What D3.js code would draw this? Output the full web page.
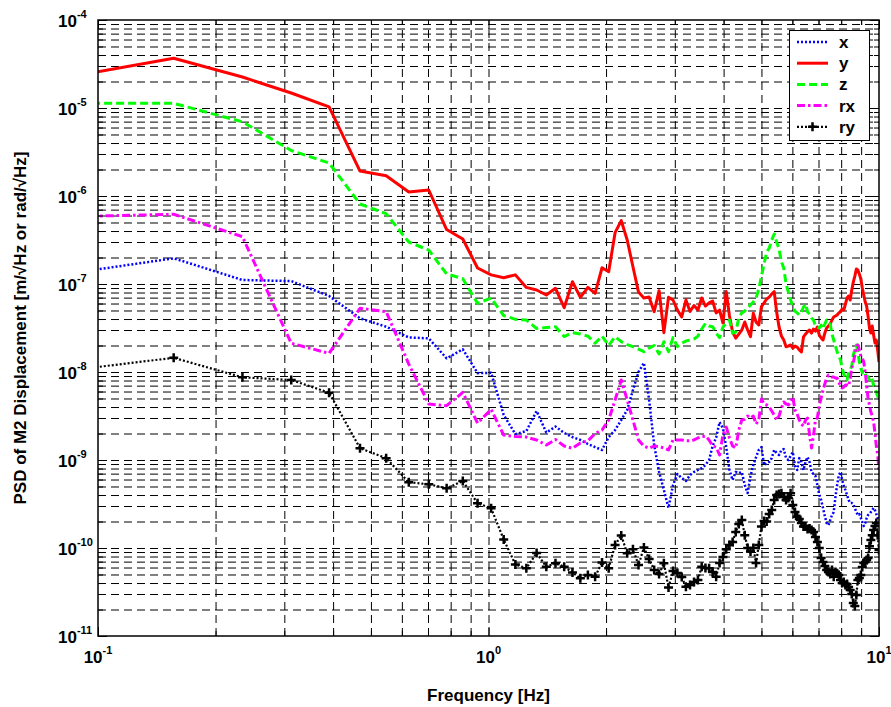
<!DOCTYPE html>
<html>
<head>
<meta charset="utf-8">
<script src="https://cdn.jsdelivr.net/npm/d3@7/dist/d3.min.js"></script>
<style>
  body { margin: 0; background: #fff; }
  svg { display: block; }
  text { font-family: "Liberation Sans", Arial, Helvetica, sans-serif; font-weight: bold; fill: #000; }
</style>
</head>
<body>
<svg id="chart" width="891" height="707"></svg>
<script>
// Frequency bins of the spectra [Hz] (bin width 0.078125 Hz)
const freqHz = [
  0.078125, 0.15625, 0.234375, 0.3125, 0.390625, 0.46875, 0.546875, 0.625,
  0.703125, 0.78125, 0.859375, 0.9375, 1.015625, 1.09375, 1.171875, 1.25,
  1.328125, 1.40625, 1.484375, 1.5625, 1.640625, 1.71875, 1.796875, 1.875,
  1.953125, 2.03125, 2.109375, 2.1875, 2.265625, 2.34375, 2.421875, 2.5,
  2.578125, 2.65625, 2.734375, 2.8125, 2.890625, 2.96875, 3.046875, 3.125,
  3.203125, 3.28125, 3.359375, 3.4375, 3.515625, 3.59375, 3.671875, 3.75,
  3.828125, 3.90625, 3.984375, 4.0625, 4.140625, 4.21875, 4.296875, 4.375,
  4.453125, 4.53125, 4.609375, 4.6875, 4.765625, 4.84375, 4.921875, 5.0,
  5.078125, 5.15625, 5.234375, 5.3125, 5.390625, 5.46875, 5.546875, 5.625,
  5.703125, 5.78125, 5.859375, 5.9375, 6.015625, 6.09375, 6.171875, 6.25,
  6.328125, 6.40625, 6.484375, 6.5625, 6.640625, 6.71875, 6.796875, 6.875,
  6.953125, 7.03125, 7.109375, 7.1875, 7.265625, 7.34375, 7.421875, 7.5,
  7.578125, 7.65625, 7.734375, 7.8125, 7.890625, 7.96875, 8.046875, 8.125,
  8.203125, 8.28125, 8.359375, 8.4375, 8.515625, 8.59375, 8.671875, 8.75,
  8.828125, 8.90625, 8.984375, 9.0625, 9.140625, 9.21875, 9.296875, 9.375,
  9.453125, 9.53125, 9.609375, 9.6875, 9.765625, 9.84375, 9.921875, 10.0
];

// PSD of M2 displacement, translational DOFs [m/√Hz]
const psdX = [
  1.25e-7, 1.96e-7, 1.11e-7, 1.08e-7, 7.3e-8, 4.08e-8, 3.27e-8, 2.47e-8, 2.41e-8, 1.43e-8,
  1.81e-8, 9.7e-9, 9.8e-9, 3.25e-9, 1.97e-9, 2.13e-9, 3.6e-9, 2.05e-9, 2.4e-9, 2.03e-9,
  1.82e-9, 1.69e-9, 1.52e-9, 1.4e-9, 1.3e-9, 1.82e-9, 2.19e-9, 2.85e-9, 3.7e-9, 6.24e-9,
  1.0e-8, 1.27e-8, 4.81e-9, 1.48e-9, 7.3e-10, 4.56e-10, 2.85e-10, 5.2e-10, 6.93e-10, 6.24e-10,
  5.77e-10, 6.75e-10, 7.3e-10, 7.7e-10, 8.1e-10, 8.77e-10, 1.0e-9, 1.45e-9, 1.8e-9, 2.7e-9,
  2.3e-9, 1.4e-9, 7.7e-10, 5.92e-10, 7.3e-10, 7.1e-10, 7.3e-10, 5.2e-10, 4.22e-10, 6.58e-10,
  8.77e-10, 1.08e-9, 1.3e-9, 1.4e-9, 8.77e-10, 9.2e-10, 9.5e-10, 1.05e-9, 1.3e-9, 1.2e-9,
  1.14e-9, 1.3e-9, 1.33e-9, 1.05e-9, 1.0e-9, 1.11e-9, 1.23e-9, 8.54e-10, 7.7e-10, 1.05e-9,
  9.5e-10, 7.7e-10, 9.5e-10, 1.08e-9, 9.5e-10, 7.3e-10, 6.93e-10, 6.58e-10, 5.2e-10, 4.0e-10,
  3.51e-10, 2.85e-10, 2.31e-10, 1.92e-10, 1.82e-10, 2.08e-10, 2.37e-10, 2.56e-10, 3.8e-10, 5.2e-10,
  6.75e-10, 7.3e-10, 5.92e-10, 5.06e-10, 4.56e-10, 4.0e-10, 3.51e-10, 3.25e-10, 3.25e-10, 3.16e-10,
  2.85e-10, 2.56e-10, 2.37e-10, 2.43e-10, 2.19e-10, 1.97e-10, 1.78e-10, 1.92e-10, 2.19e-10, 2.37e-10,
  2.43e-10, 2.56e-10, 2.7e-10, 2.85e-10, 2.7e-10, 2.43e-10, 2.19e-10, 2.08e-10
];

const psdY = [
  2.13e-5, 3.67e-5, 2.25e-5, 1.48e-5, 1.03e-5, 1.92e-6, 1.70e-6, 1.11e-6, 1.17e-6, 4.16e-7,
  3.25e-7, 1.52e-7, 1.27e-7, 1.18e-7, 1.27e-7, 9.15e-8, 8.54e-8, 7.5e-8, 8.94e-8, 5.38e-8,
  1.06e-7, 7.06e-8, 9.15e-8, 7.84e-8, 1.53e-7, 1.38e-7, 3.83e-7, 5.25e-7, 3.16e-7, 1.57e-7,
  8.1e-8, 6.93e-8, 7.1e-8, 4.85e-8, 8.4e-8, 2.8e-8, 7.06e-8, 6.58e-8, 5.06e-8, 4.22e-8,
  6.58e-8, 4.87e-8, 5.7e-8, 5.06e-8, 6.93e-8, 5.62e-8, 6.1e-8, 6.4e-8, 4.7e-8, 5.06e-8,
  3.6e-8, 8.2e-8, 4.33e-8, 2.85e-8, 2.43e-8, 2.7e-8, 3.0e-8, 3.7e-8, 3.0e-8, 2.52e-8,
  4.65e-8, 3.7e-8, 3.42e-8, 5.53e-8, 6.1e-8, 6.75e-8, 7.1e-8, 7.7e-8, 8.2e-8, 4.81e-8,
  3.25e-8, 2.56e-8, 2.31e-8, 1.94e-8, 1.97e-8, 2.03e-8, 1.87e-8, 1.97e-8, 1.92e-8, 1.78e-8,
  1.69e-8, 2.5e-8, 2.7e-8, 2.87e-8, 3.0e-8, 2.77e-8, 3.08e-8, 2.92e-8, 3.25e-8, 2.63e-8,
  2.43e-8, 2.31e-8, 2.77e-8, 3.16e-8, 3.33e-8, 3.51e-8, 3.9e-8, 4.22e-8, 4.33e-8, 4.45e-8,
  4.7e-8, 4.81e-8, 5.2e-8, 5.06e-8, 5.92e-8, 6.93e-8, 7.3e-8, 6.58e-8, 8.54e-8, 1.05e-7,
  1.23e-7, 1.48e-7, 1.44e-7, 1.30e-7, 1.14e-7, 9.0e-8, 7.5e-8, 6.24e-8, 5.62e-8, 4.33e-8,
  3.16e-8, 2.77e-8, 3.33e-8, 2.63e-8, 2.13e-8, 2.31e-8, 1.78e-8, 1.30e-8
];

const psdZ = [
  1.13e-5, 1.13e-5, 6.96e-6, 3.29e-6, 2.37e-6, 8.11e-7, 6.3e-7, 3.0e-7, 2.43e-7, 1.3e-7,
  1.15e-7, 6.03e-8, 6.93e-8, 4.38e-8, 3.97e-8, 3.9e-8, 3.12e-8, 3.2e-8, 3.27e-8, 2.53e-8,
  2.8e-8, 2.7e-8, 2.56e-8, 2.12e-8, 2.56e-8, 2.0e-8, 2.52e-8, 2.21e-8, 2.05e-8, 1.94e-8,
  1.82e-8, 1.70e-8, 1.87e-8, 2.0e-8, 1.6e-8, 2.21e-8, 1.7e-8, 2.46e-8, 1.94e-8, 2.12e-8,
  2.25e-8, 2.31e-8, 2.37e-8, 2.56e-8, 3.08e-8, 3.56e-8, 3.33e-8, 3.27e-8, 2.77e-8, 2.46e-8,
  3.25e-8, 3.57e-8, 3.9e-8, 2.77e-8, 2.85e-8, 4.11e-8, 4.7e-8, 4.93e-8, 5.34e-8, 5.77e-8,
  6.24e-8, 6.93e-8, 8.77e-8, 1.23e-7, 1.69e-7, 2.31e-7, 2.56e-7, 3.16e-7, 3.7e-7, 3.0e-7,
  2.5e-7, 1.78e-7, 1.52e-7, 1.0e-7, 8.11e-8, 6.58e-8, 5.62e-8, 4.93e-8, 4.7e-8, 4.45e-8,
  4.81e-8, 5.48e-8, 5.92e-8, 4.81e-8, 4.56e-8, 4.11e-8, 3.9e-8, 3.33e-8, 3.25e-8, 3.16e-8,
  3.42e-8, 3.08e-8, 3.51e-8, 3.9e-8, 3.8e-8, 3.51e-8, 2.7e-8, 2.31e-8, 1.97e-8, 1.69e-8,
  1.52e-8, 1.37e-8, 1.11e-8, 9.48e-9, 8.54e-9, 8.11e-9, 1.0e-8, 1.05e-8, 1.17e-8, 1.56e-8,
  1.78e-8, 2.03e-8, 1.69e-8, 1.30e-8, 1.11e-8, 9.8e-9, 1.05e-8, 9.48e-9, 9.0e-9, 8.8e-9,
  8.3e-9, 8.8e-9, 8.11e-9, 7.1e-9, 6.58e-9, 5.92e-9, 5.34e-9, 4.81e-9
];

// Rotational DOFs [rad/√Hz]
const psdRx = [
  5.77e-7, 6.2e-7, 3.45e-7, 2.12e-8, 1.63e-8, 5.3e-8, 4.85e-8, 1.23e-8, 4.33e-9, 4.14e-9,
  5.87e-9, 2.63e-9, 3.75e-9, 1.92e-9, 1.85e-9, 1.82e-9, 1.69e-9, 1.48e-9, 1.71e-9, 1.44e-9,
  1.36e-9, 1.56e-9, 1.65e-9, 2.0e-9, 2.19e-9, 2.85e-9, 4.81e-9, 8.11e-9, 4.81e-9, 2.85e-9,
  1.69e-9, 1.44e-9, 1.36e-9, 1.44e-9, 1.42e-9, 1.37e-9, 1.3e-9, 1.69e-9, 1.69e-9, 1.69e-9,
  1.65e-9, 1.65e-9, 1.69e-9, 1.78e-9, 1.85e-9, 1.87e-9, 1.69e-9, 1.44e-9, 1.4e-9, 1.14e-9,
  1.92e-9, 2.37e-9, 1.78e-9, 1.44e-9, 1.37e-9, 2.19e-9, 2.85e-9, 2.9e-9, 3.16e-9, 3.0e-9,
  3.16e-9, 2.56e-9, 2.85e-9, 4.93e-9, 4.33e-9, 4.22e-9, 4.0e-9, 3.6e-9, 3.25e-9, 2.85e-9,
  3.16e-9, 3.9e-9, 4.56e-9, 4.33e-9, 4.22e-9, 4.56e-9, 5.2e-9, 3.7e-9, 3.33e-9, 2.85e-9,
  2.56e-9, 2.43e-9, 2.85e-9, 3.0e-9, 1.92e-9, 1.37e-9, 1.92e-9, 2.85e-9, 3.0e-9, 4.22e-9,
  5.06e-9, 6.24e-9, 7.3e-9, 8.54e-9, 9.24e-9, 9.0e-9, 8.77e-9, 8.77e-9, 8.54e-9, 8.54e-9,
  7.7e-9, 6.93e-9, 6.58e-9, 6.75e-9, 7.1e-9, 7.1e-9, 6.93e-9, 8.54e-9, 1.11e-8, 1.27e-8,
  1.56e-8, 1.92e-8, 2.03e-8, 1.78e-8, 1.52e-8, 1.44e-8, 1.30e-8, 1.0e-8, 7.1e-9, 5.06e-9,
  4.22e-9, 3.51e-9, 3.16e-9, 2.7e-9, 2.03e-9, 1.44e-9, 1.14e-9, 7.7e-10
];

const psdRy = [
  1.0e-8, 1.45e-8, 8.7e-9, 8.11e-9, 5.82e-9, 1.36e-9, 1.05e-9, 5.58e-10, 5.3e-10, 4.77e-10,
  5.77e-10, 3.22e-10, 2.83e-10, 1.25e-10, 6.5e-11, 5.88e-11, 8.77e-11, 6.13e-11, 6.7e-11, 6.13e-11,
  5.27e-11, 4.52e-11, 4.93e-11, 4.72e-11, 6.85e-11, 5.88e-11, 1.08e-10, 1.39e-10, 8.7e-11, 9.7e-11,
  6.4e-11, 1.01e-10, 7.5e-11, 5.62e-11, 5.06e-11, 6.7e-11, 3.56e-11, 5.48e-11, 5.2e-11, 4.68e-11,
  3.63e-11, 3.8e-11, 4.11e-11, 4.33e-11, 6.13e-11, 5.92e-11, 5.88e-11, 5.34e-11, 4.72e-11, 6.75e-11,
  7.9e-11, 9.7e-11, 1.08e-10, 1.17e-10, 1.52e-10, 1.87e-10, 2.08e-10, 1.4e-10, 1.0e-10, 9.1e-11,
  1.0e-10, 6.75e-11, 1.08e-10, 1.75e-10, 2.03e-10, 2.0e-10, 2.43e-10, 2.7e-10, 3.51e-10, 4.0e-10,
  4.1e-10, 4.18e-10, 3.8e-10, 3.51e-10, 3.7e-10, 4.18e-10, 3.08e-10, 2.56e-10, 2.27e-10, 2.13e-10,
  1.92e-10, 1.75e-10, 1.75e-10, 1.64e-10, 1.67e-10, 1.6e-10, 1.52e-10, 1.33e-10, 1.17e-10, 1.0e-10,
  7.7e-11, 6.93e-11, 6.24e-11, 5.62e-11, 5.34e-11, 5.06e-11, 5.62e-11, 4.72e-11, 5.34e-11, 5.17e-11,
  4.93e-11, 4.33e-11, 4.0e-11, 4.11e-11, 3.8e-11, 3.9e-11, 3.6e-11, 3.33e-11, 3.0e-11, 2.37e-11,
  2.19e-11, 2.92e-11, 4.33e-11, 4.56e-11, 4.93e-11, 6.1e-11, 6.75e-11, 6.93e-11, 7.3e-11, 7.7e-11,
  1.05e-10, 1.23e-10, 1.4e-10, 1.6e-10, 1.78e-10, 1.92e-10, 1.4e-10, 9.48e-11
];

const seriesNames = ["x", "y", "z", "rx", "ry"];
const xTickValues = [0.1, 1, 10];
const xTickExponents = ["-1", "0", "1"];
const yTickValues = [1e-11, 1e-10, 1e-9, 1e-8, 1e-7, 1e-6, 1e-5, 1e-4];
const yTickExponents = ["-11", "-10", "-9", "-8", "-7", "-6", "-5", "-4"];
const minorMultipliers = [2, 3, 4, 5, 6, 7, 8, 9];

const xTitle = "Frequency [Hz]";
const yTitle = "PSD of M2 Displacement [m/\u221AHz or rad/\u221AHz]";

// ---- layout ----
const L = 98, R = 879, T = 20, B = 636;
const svg = d3.select("#chart");

const x = d3.scaleLog().domain([0.1, 10]).range([L, R]);
const y = d3.scaleLog().domain([1e-11, 1e-4]).range([B, T]);

// minor positions between decades
const xMinor = [];
for (let i = 0; i < xTickValues.length - 1; i++)
  minorMultipliers.forEach(m => xMinor.push(m * xTickValues[i]));
const yMinor = [];
for (let i = 0; i < yTickValues.length - 1; i++)
  minorMultipliers.forEach(m => yMinor.push(m * yTickValues[i]));

// ---- dashed grid ----
const gridStyle = g => {
  g.select(".domain").remove();
  g.selectAll(".tick line")
    .attr("stroke", "#000")
    .attr("stroke-width", 1)
    .attr("stroke-dasharray", "8,5");
};
svg.append("g")
  .attr("transform", `translate(0,${B})`)
  .call(d3.axisBottom(x).tickValues(xMinor.concat([1])).tickSize(-(B - T)).tickFormat(""))
  .call(gridStyle);
svg.append("g")
  .attr("transform", `translate(${L},0)`)
  .call(d3.axisLeft(y).tickValues(yMinor.concat(yTickValues.slice(1, -1))).tickSize(-(R - L)).tickFormat(""))
  .call(gridStyle);

// ---- data lines ----
svg.append("defs").append("clipPath").attr("id", "plotClip")
  .append("rect").attr("x", L).attr("y", T).attr("width", R - L).attr("height", B - T);

const styles = {
  x:  { color: "#0000ff", width: 2.5, dash: "2,2" },
  y:  { color: "#ff0000", width: 3,   dash: null },
  z:  { color: "#00ff00", width: 3,   dash: "8,4" },
  rx: { color: "#ff00ff", width: 3,   dash: "8,3,2.5,3" },
  ry: { color: "#000000", width: 2.2, dash: "2,2" }
};
const seriesValues = { x: psdX, y: psdY, z: psdZ, rx: psdRx, ry: psdRy };

const line = d3.line().x(d => x(d.f)).y(d => y(d.v));
const plot = svg.append("g").attr("clip-path", "url(#plotClip)");
const plusMark = "M-4.5,0H4.5M0,-4.5V4.5";

seriesNames.forEach(name => {
  const vals = seriesValues[name];
  const n = Math.min(vals.length, freqHz.length);
  const pts = d3.range(n).map(i => ({ f: freqHz[i], v: vals[i] }));
  const st = styles[name];
  plot.append("path")
    .datum(pts)
    .attr("fill", "none")
    .attr("stroke", st.color)
    .attr("stroke-width", st.width)
    .attr("stroke-dasharray", st.dash)
    .attr("stroke-linejoin", "round")
    .attr("d", line);
  if (name === "ry") {
    plot.append("g").selectAll("path")
      .data(pts.filter(p => p.f >= 0.1))
      .join("path")
      .attr("transform", d => `translate(${x(d.f)},${y(d.v)})`)
      .attr("d", plusMark)
      .attr("stroke", "#000")
      .attr("stroke-width", 2.5)
      .attr("fill", "none");
  }
});

// ---- inward ticks on all four sides ----
function ticks(axisFn, scale, values, len, transform) {
  svg.append("g")
    .attr("transform", transform)
    .call(axisFn(scale).tickValues(values).tickSizeInner(-len).tickSizeOuter(0).tickFormat(""))
    .call(g => g.select(".domain").remove())
    .selectAll(".tick line").attr("stroke", "#000").attr("stroke-width", 1);
}
ticks(d3.axisBottom, x, xMinor, 5, `translate(0,${B})`);
ticks(d3.axisBottom, x, xTickValues, 9, `translate(0,${B})`);
ticks(d3.axisTop, x, xMinor, 5, `translate(0,${T})`);
ticks(d3.axisTop, x, xTickValues, 9, `translate(0,${T})`);
ticks(d3.axisLeft, y, yMinor, 5, `translate(${L},0)`);
ticks(d3.axisLeft, y, yTickValues, 9, `translate(${L},0)`);
ticks(d3.axisRight, y, yMinor, 5, `translate(${R},0)`);
ticks(d3.axisRight, y, yTickValues, 9, `translate(${R},0)`);

// axes box
svg.append("rect")
  .attr("x", L).attr("y", T).attr("width", R - L).attr("height", B - T)
  .attr("fill", "none").attr("stroke", "#000").attr("stroke-width", 1.5);

// ---- tick labels (powers of ten) ----
xTickValues.forEach((v, i) => {
  const t = svg.append("text")
    .attr("x", x(v)).attr("y", B + 27)
    .attr("text-anchor", "middle");
  t.append("tspan").attr("font-size", 17).text("10");
  t.append("tspan").attr("font-size", 11).attr("dy", -9).text(xTickExponents[i]);
});
yTickValues.forEach((v, i) => {
  const t = svg.append("text")
    .attr("x", 58).attr("y", y(v) + 7)
    .attr("text-anchor", "start");
  t.append("tspan").attr("font-size", 17).text("10");
  t.append("tspan").attr("font-size", 11).attr("dy", -9).text(yTickExponents[i]);
});

// ---- axis titles ----
svg.append("text")
  .attr("x", (L + R) / 2).attr("y", 701)
  .attr("text-anchor", "middle").attr("font-size", 17)
  .text(xTitle);
svg.append("text")
  .attr("transform", `translate(26,${(T + B) / 2}) rotate(-90)`)
  .attr("text-anchor", "middle").attr("font-size", 17)
  .text(yTitle);

// ---- legend ----
const legend = svg.append("g");
legend.append("rect")
  .attr("x", 789.5).attr("y", 30.5).attr("width", 80).attr("height", 110)
  .attr("fill", "#fff").attr("stroke", "#000").attr("stroke-width", 1);
const legendY = d3.scalePoint().domain(seriesNames).range([42, 126.8]);
seriesNames.forEach(name => {
  const st = styles[name];
  const yy = legendY(name);
  legend.append("line")
    .attr("x1", 797).attr("x2", 828).attr("y1", yy).attr("y2", yy)
    .attr("stroke", st.color).attr("stroke-width", st.width)
    .attr("stroke-dasharray", st.dash);
  if (name === "ry") {
    legend.append("path")
      .attr("transform", `translate(812.5,${yy})`)
      .attr("d", plusMark)
      .attr("stroke", "#000").attr("stroke-width", 2.5);
  }
  legend.append("text")
    .attr("x", 839).attr("y", yy + 6)
    .attr("font-size", 17)
    .text(name);
});
</script>
</body>
</html>
